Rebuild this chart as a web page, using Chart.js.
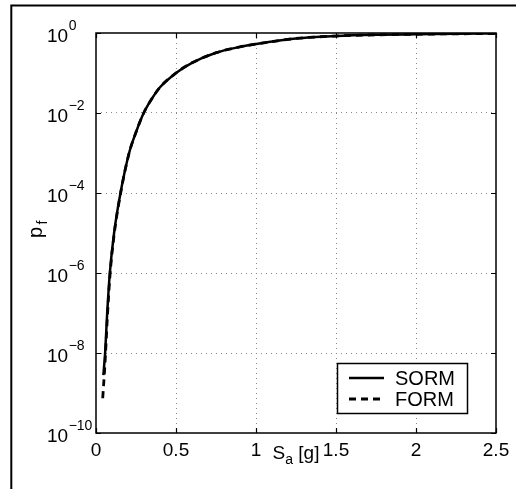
<!DOCTYPE html>
<html>
<head>
<meta charset="utf-8">
<script src="https://cdn.jsdelivr.net/npm/chart.js@4.4.0/dist/chart.umd.min.js"></script>
<style>
  html, body { margin: 0; padding: 0; background: #fff; }
  canvas { display: block; }
</style>
</head>
<body>
<canvas id="pfChart" width="516" height="489"></canvas>
<script>
'use strict';

// Failure probability vs spectral acceleration.
const sormSa = [0.046, 0.057, 0.070, 0.0865, 0.113, 0.153, 0.207, 0.25, 0.298, 0.35, 0.4, 0.5, 0.6, 0.75, 0.9, 1.0, 1.25, 1.5, 1.75, 2.0, 2.25, 2.5];
const sormPf = [2.8e-9, 1.0e-8, 1.0e-7, 1.0e-6, 1.0e-5, 1.0e-4, 1.0e-3, 3.3e-3, 1.0e-2, 2.3e-2, 4.4e-2, 0.10, 0.18, 0.32, 0.45, 0.53, 0.73, 0.84, 0.90, 0.93, 0.955, 0.97];
const formSa = [0.042, 0.057, 0.070, 0.0865, 0.113, 0.153, 0.207, 0.25, 0.298, 0.35, 0.4, 0.5, 0.6, 0.75, 0.9, 1.0, 1.25, 1.5, 1.75, 2.0, 2.25, 2.5];
const formPf = [7.4e-10, 6.3e-9, 6.6e-8, 7.9e-7, 8.9e-6, 9.5e-5, 1.0e-3, 3.3e-3, 1.0e-2, 2.3e-2, 4.4e-2, 0.10, 0.18, 0.32, 0.45, 0.53, 0.73, 0.84, 0.90, 0.93, 0.955, 0.97];

const seriesNames = ['SORM', 'FORM'];
const xTicks = [0, 0.5, 1, 1.5, 2, 2.5];
const xTickLabels = ['0', '0.5', '1', '1.5', '2', '2.5'];
const yTicks = [1e-10, 1e-8, 1e-6, 1e-4, 1e-2, 1];
const yTickExps = ['\u221210', '\u22128', '\u22126', '\u22124', '\u22122', '0'];

const FONT = '"Liberation Sans", Arial, Helvetica, sans-serif';

function font(size) {
  return size + 'px ' + FONT;
}

const isEdge = (scale, v) => v === scale.min || v === scale.max;

// Axes box, inward ticks, tex-like labels and the boxed legend.
const paperPlugin = {
  id: 'paper',
  beforeDraw(chart) {
    const { ctx, width, height } = chart;
    ctx.save();
    ctx.fillStyle = '#fff';
    ctx.fillRect(0, 0, width, height);
    ctx.strokeStyle = '#000';
    ctx.lineWidth = 2;
    ctx.beginPath();
    ctx.moveTo(11.3, height);
    ctx.lineTo(11.3, 5.5);
    ctx.lineTo(width, 5.5);
    ctx.stroke();
    ctx.restore();
  },
  afterDraw(chart) {
    const { ctx, chartArea: a, scales: { x, y } } = chart;
    ctx.save();
    ctx.strokeStyle = '#000';
    ctx.lineWidth = 1.2;

    // inward ticks on all four sides
    ctx.beginPath();
    xTicks.forEach((v) => {
      const px = Math.round(x.getPixelForValue(v)) + 0.5;
      ctx.moveTo(px, a.bottom); ctx.lineTo(px, a.bottom - 5);
      ctx.moveTo(px, a.top); ctx.lineTo(px, a.top + 5);
    });
    yTicks.forEach((v) => {
      const py = Math.round(y.getPixelForValue(v)) + 0.5;
      ctx.moveTo(a.left, py); ctx.lineTo(a.left + 5, py);
      ctx.moveTo(a.right, py); ctx.lineTo(a.right - 5, py);
    });
    ctx.stroke();

    // axes box
    ctx.lineWidth = 1.5;
    ctx.strokeRect(a.left, a.top, a.right - a.left, a.bottom - a.top);

    // tick labels
    ctx.fillStyle = '#000';
    ctx.textBaseline = 'alphabetic';
    ctx.textAlign = 'center';
    ctx.font = font(19);
    xTicks.forEach((v, i) => {
      ctx.fillText(xTickLabels[i], x.getPixelForValue(v), a.bottom + 23);
    });
    ctx.textAlign = 'left';
    yTicks.forEach((v, i) => {
      const py = y.getPixelForValue(v);
      ctx.font = font(19);
      ctx.fillText('10', 47, py + 8.5);
      const w = ctx.measureText('10').width;
      ctx.font = font(14);
      ctx.fillText(yTickExps[i], 47 + w + 0.5, py - 3);
    });

    // x title: S_a [g]
    const cx = (a.left + a.right) / 2;
    ctx.font = font(19);
    const wS = ctx.measureText('S').width;
    const wG = ctx.measureText(' [g]').width;
    ctx.font = font(14);
    const wA = ctx.measureText('a').width;
    const tx = cx - (wS + wA + wG) / 2;
    const by = a.bottom + 26;
    ctx.font = font(19);
    ctx.fillText('S', tx, by);
    ctx.font = font(14);
    ctx.fillText('a', tx + wS, by + 5);
    ctx.font = font(19);
    ctx.fillText(' [g]', tx + wS + wA, by);

    // y title: p_f
    ctx.save();
    ctx.translate(42, 238);
    ctx.rotate(-Math.PI / 2);
    ctx.font = font(20);
    ctx.fillText('p', 0, 0);
    const wP = ctx.measureText('p').width;
    ctx.font = font(14);
    ctx.fillText('f', wP + 2.5, 5);
    ctx.restore();

    // legend
    const lx = 337.5, ly = 363.5, lw = 130, lh = 50;
    ctx.fillStyle = '#fff';
    ctx.fillRect(lx, ly, lw, lh);
    ctx.lineWidth = 1.5;
    ctx.strokeRect(lx, ly, lw, lh);
    chart.data.datasets.forEach((ds, i) => {
      const ry = 378 + i * 21;
      ctx.strokeStyle = ds.borderColor;
      ctx.lineWidth = ds.borderWidth;
      ctx.setLineDash(ds.borderDash || []);
      ctx.beginPath();
      ctx.moveTo(349, ry);
      ctx.lineTo(384, ry);
      ctx.stroke();
      ctx.setLineDash([]);
      ctx.fillStyle = '#000';
      ctx.font = font(20);
      ctx.textBaseline = 'middle';
      ctx.fillText(seriesNames[i], 395, ry + 1);
    });
    ctx.restore();
  },
};

const toPoints = (xs, ys) => xs.map((v, i) => ({ x: v, y: ys[i] }));

new Chart(document.getElementById('pfChart'), {
  type: 'line',
  data: {
    datasets: [
      {
        label: seriesNames[0],
        data: toPoints(sormSa, sormPf),
        borderColor: '#000',
        borderWidth: 2.5,
        pointRadius: 0,
        cubicInterpolationMode: 'monotone',
        fill: false,
      },
      {
        label: seriesNames[1],
        data: toPoints(formSa, formPf),
        borderColor: '#000',
        borderWidth: 2.8,
        borderDash: [7, 5],
        pointRadius: 0,
        cubicInterpolationMode: 'monotone',
        fill: false,
      },
    ],
  },
  options: {
    responsive: false,
    devicePixelRatio: 1,
    animation: false,
    layout: { padding: { left: 96, top: 33, right: 20, bottom: 56 } },
    scales: {
      x: {
        type: 'linear',
        min: 0,
        max: 2.5,
        afterBuildTicks: (s) => { s.ticks = xTicks.map((v) => ({ value: v })); },
        ticks: { display: false },
        grid: {
          drawTicks: false,
          color: (c) => (c.tick && isEdge(c.scale, c.tick.value) ? 'rgba(0,0,0,0)' : '#8a8a8a'),
          lineWidth: 1,
        },
        border: { display: false, dash: [1, 4] },
      },
      y: {
        type: 'logarithmic',
        min: 1e-10,
        max: 1,
        afterBuildTicks: (s) => { s.ticks = yTicks.map((v) => ({ value: v })); },
        ticks: { display: false },
        grid: {
          drawTicks: false,
          color: (c) => (c.tick && isEdge(c.scale, c.tick.value) ? 'rgba(0,0,0,0)' : '#8a8a8a'),
          lineWidth: 1,
        },
        border: { display: false, dash: [1, 4] },
      },
    },
    plugins: {
      legend: { display: false },
      tooltip: { enabled: false },
    },
  },
  plugins: [paperPlugin],
});
</script>
</body>
</html>
